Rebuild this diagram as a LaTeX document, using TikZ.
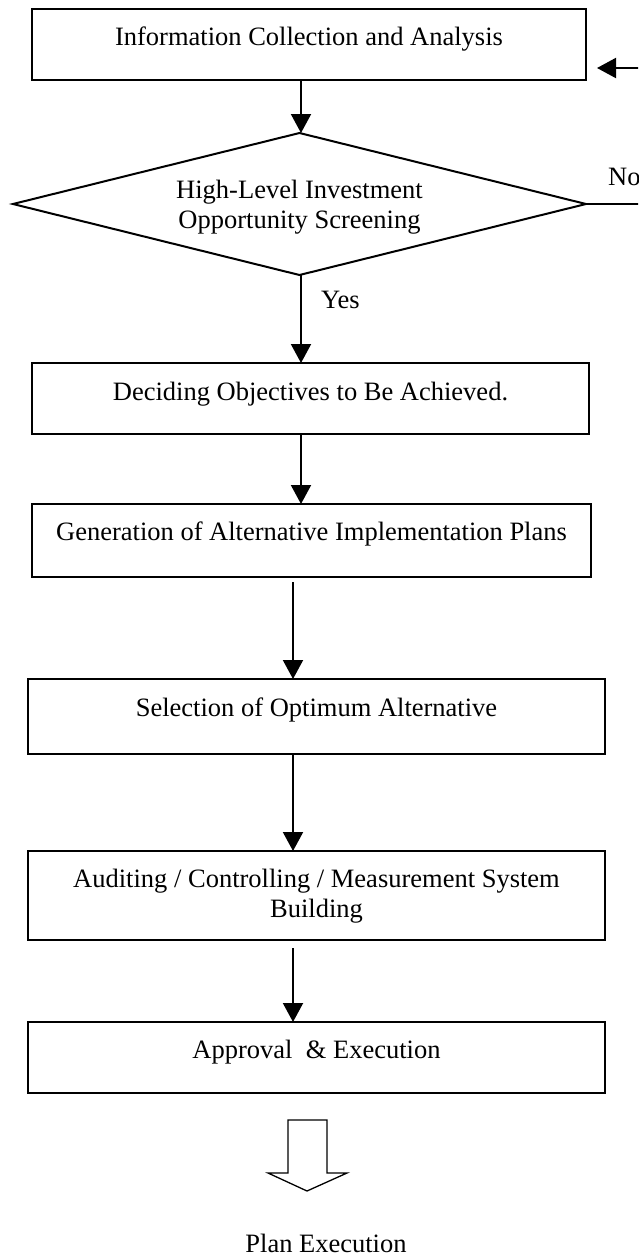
\documentclass[tikz,border=0pt]{standalone}
\usepackage{fontspec}
\setmainfont{Liberation Serif}
\usetikzlibrary{arrows.meta,shapes.geometric}
\begin{document}
\begin{tikzpicture}[x=1pt,y=-1pt,
  font=\fontsize{26.5}{30}\selectfont,
  stepbox/.style={draw,line width=2pt,inner sep=0pt,outer sep=0pt},
  decision/.style={diamond,draw,line width=2pt,inner sep=0pt,outer sep=0pt},
  caption/.style={anchor=base,align=center,inner sep=0pt},
  tag/.style={anchor=base west,inner sep=0pt},
  flow/.style={line width=2pt,-{Triangle[width=20pt,length=19pt]}},
  bigarrow/.style={draw,line width=1.3pt,line join=miter,fill=white},
]
\useasboundingbox (0,0) rectangle (638,1256);
\clip (0,0) rectangle (638,1256);
\fill[white] (0,0) rectangle (638,1256);

% process boxes
\node[stepbox,minimum width=554,minimum height=71] (b1) at (309,44.5) {};
\node[decision,minimum width=573,minimum height=142] (d) at (299.5,204) {};
\node[stepbox,minimum width=557,minimum height=71] (b2) at (310.5,398.5) {};
\node[stepbox,minimum width=559,minimum height=73] (b3) at (311.5,540.5) {};
\node[stepbox,minimum width=577,minimum height=75] (b4) at (316.5,716.5) {};
\node[stepbox,minimum width=577,minimum height=89] (b5) at (316.5,895.5) {};
\node[stepbox,minimum width=577,minimum height=71] (b6) at (316.5,1057.5) {};

% box texts (multi-line nodes sit on the baseline of their last line)
\node[caption] (t1) at (309,45) {Information Collection and Analysis};
\node[caption] (td) at (299.5,228) {High-Level Investment\\Opportunity Screening};
\node[caption] (t2) at (310.5,400) {Deciding Objectives to Be Achieved.};
\node[caption] (t3) at (311.5,540) {Generation of Alternative Implementation Plans};
\node[caption] (t4) at (316.5,716) {Selection of Optimum Alternative};
\node[caption] (t5) at (316.5,917) {Auditing / Controlling / Measurement System\\Building};
\node[caption] (t6) at (316.5,1058) {Approval\ \ \& Execution};
\node[caption] (t7) at (326,1252) {Plan Execution};
\node[tag] (yes) at (321,308) {Yes};
\node[tag] (no) at (608,185) {No};

% connectors
\coordinate (colA) at (301,0);
\coordinate (colB) at (293,0);
\coordinate (loop) at (660,68);
\draw[flow] (b1.south -| colA) -- (d.north -| colA);
\draw[flow] (d.south -| colA) -- (b2.north -| colA);
\draw[flow] (b2.south -| colA) -- (b3.north -| colA);
\draw[flow,shorten <=5pt] (b3.south -| colB) -- (b4.north -| colB);
\draw[flow] (b4.south -| colB) -- (b5.north -| colB);
\draw[flow,shorten <=8pt] (b5.south -| colB) -- (b6.north -| colB);
\draw[flow,shorten >=11pt] (d.east) -| (loop) -- (loop -| b1.east);

% hollow block arrow
\draw[bigarrow] (288,1120) -- (327,1120) -- (327,1173) -- (347,1173)
  -- (307,1191) -- (268,1173) -- (288,1173) -- cycle;
\end{tikzpicture}
\end{document}
